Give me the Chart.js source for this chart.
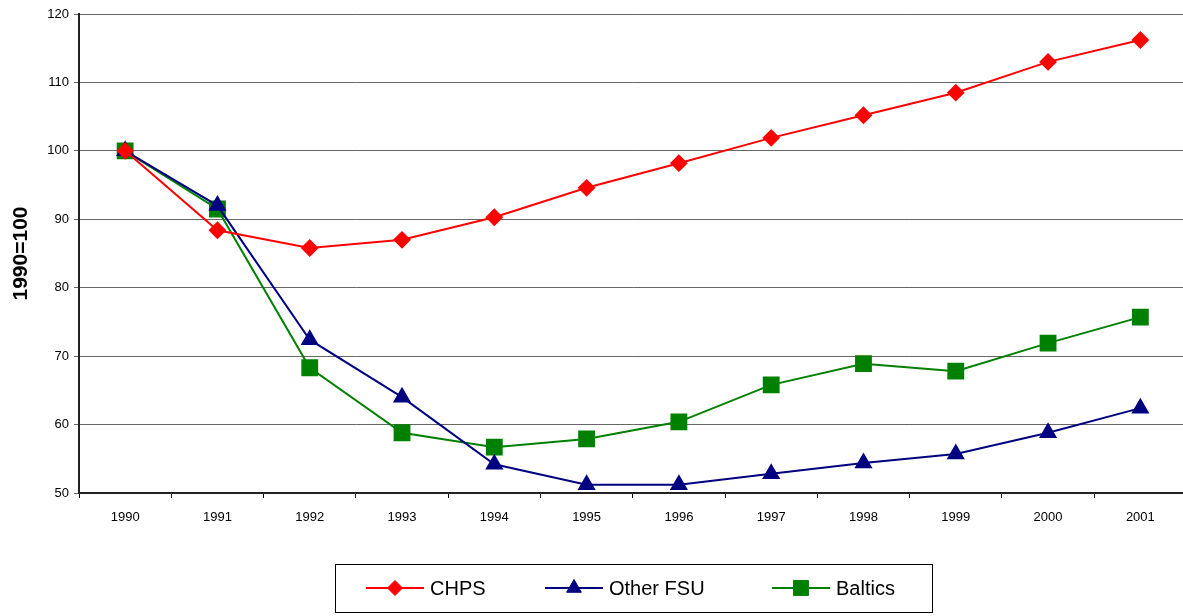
<!DOCTYPE html>
<html>
<head>
<meta charset="utf-8">
<script src="https://cdn.jsdelivr.net/npm/chart.js@4/dist/chart.umd.min.js"></script>
<style>
  html, body { margin: 0; padding: 0; background: #fff; overflow: hidden; }
  #wrap { width: 1183px; height: 616px; overflow: hidden; }
</style>
</head>
<body>
<div id="wrap"><canvas id="myLineChart" width="1199" height="616"></canvas></div>
<script>
// data
var years = ["1990", "1991", "1992", "1993", "1994", "1995", "1996", "1997", "1998", "1999", "2000", "2001"];
var chps = [100, 88.4, 85.8, 87.0, 90.3, 94.6, 98.2, 101.9, 105.2, 108.5, 113.0, 116.2];
var otherFsu = [100, 92.0, 72.4, 64.0, 54.2, 51.2, 51.2, 52.8, 54.4, 55.7, 58.8, 62.4];
var baltics = [100, 91.5, 68.3, 58.8, 56.7, 57.9, 60.4, 65.8, 68.9, 67.8, 71.9, 75.7];
var yTicks = { min: 50, max: 120, step: 10 };

var FONT = "'Liberation Sans', Arial, sans-serif";

// legend drawn in a box below the chart: line sample with marker in the middle
var boxLegend = {
    id: "boxLegend",
    afterDraw: function(chart) {
        var ctx = chart.ctx;
        ctx.save();
        ctx.strokeStyle = "#000";
        ctx.lineWidth = 1;
        ctx.strokeRect(335.5, 564.5, 597, 48);
        var starts = [366, 545, 772];
        var cy = 588;
        ctx.font = "20px " + FONT;
        ctx.textBaseline = "middle";
        chart.data.datasets.forEach(function(ds, i) {
            var x0 = starts[i];
            ctx.strokeStyle = ds.borderColor;
            ctx.lineWidth = 2;
            ctx.beginPath();
            ctx.moveTo(x0, cy);
            ctx.lineTo(x0 + 58, cy);
            ctx.stroke();
            ctx.fillStyle = ds.pointBackgroundColor;
            ctx.strokeStyle = ds.pointBorderColor;
            ctx.lineWidth = 1;
            Chart.helpers.drawPoint(ctx, { pointStyle: ds.pointStyle, radius: ds.pointRadius, rotation: 0, borderWidth: 1 }, x0 + 29, cy);
            ctx.fillStyle = "#000";
            ctx.fillText(ds.label, x0 + 64, cy + 1);
        });
        ctx.restore();
    }
};

var ctxEl = document.getElementById("myLineChart");
var lineChart = new Chart(ctxEl, {
    type: "line",
    data: {
        labels: years,
        datasets: [{
            label: "CHPS",
            data: chps,
            borderColor: "#ff0000",
            borderWidth: 2,
            pointStyle: "rectRot",
            pointRadius: 7.5,
            pointBackgroundColor: "#ff0000",
            pointBorderColor: "#ff0000",
            tension: 0
        }, {
            label: "Other FSU",
            data: otherFsu,
            borderColor: "#000080",
            borderWidth: 2,
            pointStyle: "triangle",
            pointRadius: 8.5,
            pointBackgroundColor: "#000080",
            pointBorderColor: "#000080",
            tension: 0
        }, {
            label: "Baltics",
            data: baltics,
            borderColor: "#008000",
            borderWidth: 2,
            pointStyle: "rect",
            pointRadius: 10.5,
            pointBackgroundColor: "#008000",
            pointBorderColor: "#008000",
            tension: 0
        }]
    },
    options: {
        responsive: false,
        animation: false,
        layout: { padding: { top: 14, right: 0, bottom: 90, left: 0 } },
        plugins: {
            legend: { display: false },
            tooltip: { enabled: false }
        },
        scales: {
            x: {
                offset: true,
                grid: {
                    offset: true,
                    drawOnChartArea: false,
                    drawTicks: true,
                    tickLength: 5,
                    color: "#000"
                },
                border: { color: "#222", width: 2 },
                ticks: {
                    color: "#000",
                    font: { family: FONT, size: 13 },
                    padding: 12,
                    maxRotation: 0
                },
                afterFit: function(scale) { scale.height = 33; }
            },
            y: {
                min: yTicks.min,
                max: yTicks.max,
                grid: {
                    color: "#666",
                    drawTicks: true,
                    tickLength: 5
                },
                border: { color: "#222", width: 2 },
                ticks: {
                    stepSize: yTicks.step,
                    color: "#000",
                    font: { family: FONT, size: 13 },
                    padding: 5
                },
                title: {
                    display: true,
                    text: "1990=100",
                    color: "#000",
                    font: { family: FONT, size: 21, weight: "bold" },
                    padding: { top: 9, bottom: 0 }
                },
                afterFit: function(scale) { scale.width = 79; }
            }
        }
    },
    plugins: [boxLegend]
});
</script>
</body>
</html>
